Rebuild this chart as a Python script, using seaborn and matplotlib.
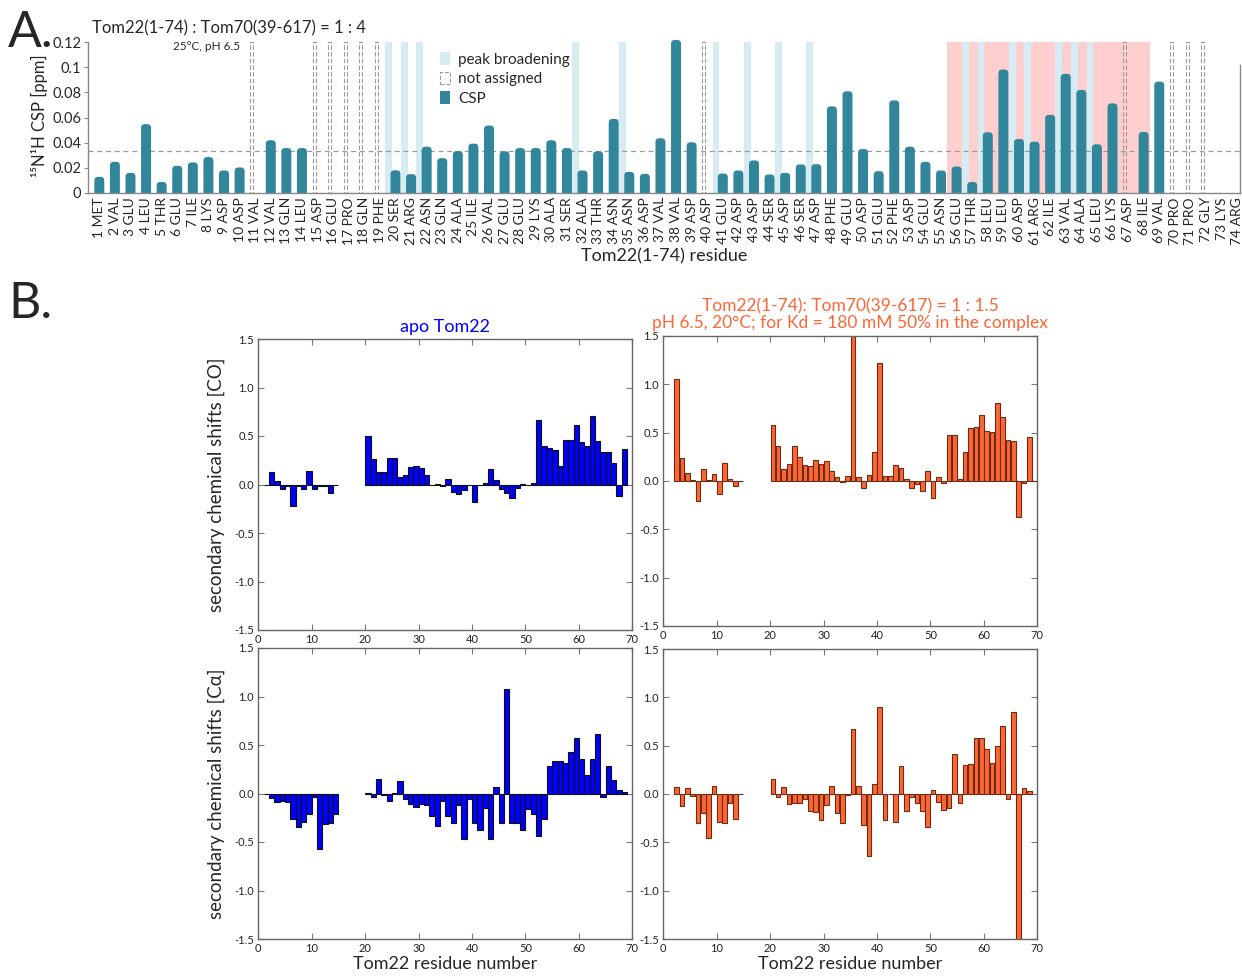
import numpy as np
import pandas as pd
import matplotlib
matplotlib.use("Agg")
import matplotlib.pyplot as plt
import seaborn as sns
from matplotlib.patches import FancyBboxPatch, Patch, Rectangle

sns.set_theme(style="white")
plt.rcParams["font.family"] = ["Lato", "DejaVu Sans"]
plt.rcParams["axes.unicode_minus"] = False

# ---------------- Panel A data ----------------
residue_numbers = list(range(1, 75))
residue_names = ["MET", "VAL", "GLU", "LEU", "THR", "GLU", "ILE", "LYS", "ASP", "ASP",
                 "VAL", "VAL", "GLN", "LEU", "ASP", "GLU", "PRO", "GLN", "PHE", "SER",
                 "ARG", "ASN", "GLN", "ALA", "ILE", "VAL", "GLU", "GLU", "LYS", "ALA",
                 "SER", "ALA", "THR", "ASN", "ASN", "ASP", "VAL", "VAL", "ASP", "ASP",
                 "GLU", "ASP", "ASP", "SER", "ASP", "SER", "ASP", "PHE", "GLU", "ASP",
                 "GLU", "PHE", "ASP", "GLU", "ASN", "GLU", "THR", "LEU", "LEU", "ASP",
                 "ARG", "ILE", "VAL", "ALA", "LEU", "LYS", "ASP", "ILE", "VAL", "PRO",
                 "PRO", "GLY", "LYS", "ARG"]
nan = np.nan
csp_values = [0.0128, 0.0248, 0.016, 0.0547, 0.0088, 0.0216, 0.0243, 0.0285, 0.0179, 0.0203,
              nan, 0.0419, 0.0357, 0.0357, nan, nan, nan, nan, nan, 0.018,
              0.015, 0.0368, 0.0277, 0.0333, 0.0392, 0.0536, 0.0331, 0.0357, 0.0357, 0.0419,
              0.0357, 0.0179, 0.0331, 0.0589, 0.0168, 0.0152, 0.0435, 0.1216, 0.0403, nan,
              0.0155, 0.0179, 0.0259, 0.0147, 0.016, 0.0227, 0.0229, 0.0688, 0.0808, 0.0349,
              0.0173, 0.0736, 0.0368, 0.0248, 0.0179, 0.0211, 0.0088, 0.0483, 0.0981, 0.0429,
              0.0408, 0.0621, 0.0947, 0.0819, 0.0387, 0.0712, nan, 0.0485, 0.0885, nan,
              nan, nan, nan, nan]
peak_broadening = [20, 21, 22, 32, 35, 41, 43, 45, 47, 57, 58, 60, 61, 63, 64, 65]
not_assigned = [11, 15, 16, 17, 18, 19, 40, 67, 70, 71, 72]
highlight_range = [56, 68]
csp_threshold = 0.0333
csp_yticks = [0, 0.02, 0.04, 0.06, 0.08, 0.1, 0.12]
csp_yticklabels = ["0", "0.02", "0.04", "0.06", "0.08", "0.1", "0.12"]

# ---------------- Panel B data ----------------
apo_co_res = list(range(1, 15)) + list(range(20, 69))
apo_co = [0, 0.13, 0.04, -0.05, -0.02, -0.22, -0.02, -0.05, 0.14, -0.05, -0.02, -0.02, -0.09, 0,
          0.50, 0.26, 0.13, 0.13, 0.27, 0.275, 0.076, 0.093, 0.18, 0.186, 0.175, 0.10, -0.01,
          0.007, -0.02, 0.06, -0.08, -0.10, -0.06, -0.005, -0.18, -0.01, 0.017, 0.155, 0.05,
          -0.045, -0.083, -0.138, -0.04, 0.01, -0.007, 0.014, 0.66, 0.40, 0.38, 0.355, 0.19,
          0.455, 0.46, 0.61, 0.44, 0.40, 0.71, 0.45, 0.33, 0.335, 0.22, -0.12, 0.37]

apo_ca_res = list(range(1, 15)) + list(range(20, 69))
apo_ca = [0, -0.045, -0.09, -0.076, -0.083, -0.26, -0.348, -0.293, -0.214, -0.041, -0.57,
          -0.314, -0.303, -0.21,
          0.01, -0.04, 0.148, -0.02, -0.076, 0.01, 0.134, -0.059, -0.107, -0.138, -0.107,
          -0.117, -0.231, -0.331, -0.076, -0.231, -0.307, -0.114, -0.47, -0.055, -0.307,
          -0.372, -0.145, -0.47, 0.072, -0.30, 1.079, -0.303, -0.30, -0.372, -0.159, -0.21,
          -0.434, -0.262, 0.286, 0.338, 0.338, 0.31, 0.424, 0.572, 0.355, 0.19, 0.355, 0.617,
          -0.038, 0.286, 0.138, 0.041, 0.02]

bound_co_res = list(range(2, 15)) + list(range(20, 70))
bound_co = [1.05, 0.24, 0.08, 0.01, -0.21, 0.12, 0.01, 0.072, -0.137, 0.185, 0.02, -0.048, 0,
            0.575, 0.36, 0.123, 0.171, 0.36, 0.253, 0.161, 0.154, 0.216, 0.171, 0.202, 0.106,
            0.038, -0.014, 0.055, 1.55, 0.038, -0.068, 0.062, 0.298, 1.22, 0.055, 0.048, 0.161,
            0.137, 0.02, -0.075, -0.034, -0.103, 0.103, -0.175, 0.038, -0.02, 0.473, 0.473,
            0.024, 0.295, 0.545, 0.555, 0.678, 0.52, 0.503, 0.808, 0.661, 0.421, 0.411, -0.373,
            -0.02, 0.452, 0]

bound_ca_res = list(range(2, 15)) + list(range(20, 69))
bound_ca = [0.072, -0.12, 0.066, -0.02, -0.30, -0.197, -0.45, 0.086, -0.293, -0.297, -0.093,
            -0.262, 0,
            0.152, -0.034, 0.072, -0.107, -0.093, -0.093, -0.052, -0.176, -0.183, -0.27, -0.114,
            0.083, -0.197, -0.297, -0.007, 0.672, 0.079, -0.317, -0.645, 0.10, 0.903, -0.27,
            -0.005, -0.29, 0.293, -0.176, -0.034, -0.097, -0.18, -0.34, 0.038, -0.079, -0.169,
            -0.148, 0.417, -0.093, 0.297, 0.307, 0.583, 0.576, 0.462, 0.321, 0.497, 0.707,
            -0.055, 0.852, -1.55, 0.059, 0.028]

ss_xticks = [0, 10, 20, 30, 40, 50, 60, 70]
ss_yticks = [-1.5, -1.0, -0.5, 0.0, 0.5, 1.0, 1.5]

# ---------------- styling ----------------
TEAL = "#31869c"
LIGHTBLUE = "#d6ebf2"
PINK = "#ffcfcf"
DASHGRAY = "#9a9a9a"
APO_BLUE = "#0000ff"
ORANGE = "#ff6633"
ORANGE_EDGE = "#6b2a12"

W, H = 1242, 976
fig = plt.figure(figsize=(W / 100, H / 100), dpi=100)


def fbox(x0, y0, x1, y1):
    return [x0 / W, 1 - y1 / H, (x1 - x0) / W, (y1 - y0) / H]


# ================= Panel A =================
A_YTOP = 0.1225
axA = fig.add_axes(fbox(88, 193 - 151 * A_YTOP / 0.12, 1240, 193))
labels = [f"{n} {nm}" for n, nm in zip(residue_numbers, residue_names)]
dfA = pd.DataFrame({"label": labels, "csp": csp_values}).dropna()
sns.barplot(data=dfA, x="label", y="csp", order=labels, color=TEAL, saturation=1,
            width=0.64, errorbar=None, ax=axA, zorder=2)
axA.set_xlim(-0.725, 73.18)
axA.set_ylim(0, A_YTOP)

# rounded-top bars
px_y = A_YTOP / (151 * A_YTOP / 0.12)
px_x = 1 / 15.588
asp = px_y / px_x
for p in list(axA.patches):
    x, w, h = p.get_x(), p.get_width(), p.get_height()
    p.remove()
    if not np.isfinite(h) or h <= 0:
        continue
    axA.add_patch(FancyBboxPatch((x, -0.012), w, h + 0.012,
                                 boxstyle="round,pad=0,rounding_size=0.24",
                                 mutation_aspect=asp, fc=TEAL, ec="none", zorder=2))

frac = 0.12 / A_YTOP
axA.axvspan(highlight_range[0] - 1 - 0.62, highlight_range[1] - 1 + 0.40, ymax=frac,
            color=PINK, lw=0, zorder=0.3)
for r in peak_broadening:
    axA.axvspan(r - 1 - 0.66, r - 1 - 0.22, ymax=frac, color=LIGHTBLUE, lw=0, zorder=0.5)
for r in not_assigned:
    axA.add_patch(Rectangle((r - 1 - 0.31, 0), 0.19, 0.12, fill=False, ls=(0, (4, 2)),
                            ec=DASHGRAY, lw=0.8, zorder=1))
axA.axhline(csp_threshold, ls=(0, (4, 3)), color=DASHGRAY, lw=0.9, zorder=1.5)

axA.spines["top"].set_visible(False)
for s in ["left", "right", "bottom"]:
    axA.spines[s].set_color("#888888")
    axA.spines[s].set_linewidth(1.0)
axA.spines["left"].set_bounds(0, 0.12)
axA.spines["right"].set_bounds(0, 0.1015)
axA.set_yticks(csp_yticks)
axA.set_yticklabels(csp_yticklabels)
axA.tick_params(axis="y", direction="out", length=3, width=0.8, color="#888888",
                labelsize=10.5, pad=2, left=True)
axA.tick_params(axis="x", length=0, labelsize=10, pad=3, rotation=90)
axA.set_xlabel("Tom22(1-74) residue", fontsize=13, labelpad=2)
axA.set_ylabel("¹⁵N¹H CSP [ppm]", fontsize=12, labelpad=3)

legend_handles = [Patch(fc=LIGHTBLUE, ec="none"),
                  Patch(fc="none", ec=DASHGRAY, ls="--", lw=0.8),
                  Patch(fc=TEAL, ec="none")]
axA.legend(legend_handles, ["peak broadening", "not assigned", "CSP"], loc="upper left",
           bbox_to_anchor=(0.3, 0.955), frameon=False, fontsize=11, handlelength=0.7,
           handleheight=0.9, handletextpad=0.5, labelspacing=0.33, borderaxespad=0)

fig.text(8 / W, 1 - 47 / H, "A.", fontsize=36, va="baseline", ha="left")
fig.text(92 / W, 1 - 33 / H, "Tom22(1-74) : Tom70(39-617) = 1 : 4", fontsize=12,
         va="baseline", ha="left")
fig.text(173 / W, 1 - 46 / H, "25°C, pH 6.5", fontsize=8.5, va="center", ha="left")

# ================= Panel B =================
fig.text(8 / W, 1 - 318 / H, "B.", fontsize=36, va="baseline", ha="left")

axTL = fig.add_axes(fbox(258.3, 339, 632.3, 630))
axTR = fig.add_axes(fbox(663.3, 336, 1037.3, 626))
axBL = fig.add_axes(fbox(258.3, 648, 632.3, 939))
axBR = fig.add_axes(fbox(663.3, 649, 1037.3, 939))


def ss_panel(ax, res, vals, face, edge, width):
    df = pd.DataFrame({"pos": np.array(res) + 0.5, "val": vals})
    sns.barplot(data=df, x="pos", y="val", native_scale=True, width=width, color=face,
                edgecolor=edge, linewidth=0.8, saturation=1, errorbar=None, ax=ax)
    ax.set_xlim(0, 70)
    ax.set_ylim(-1.5, 1.5)
    ax.set_xticks(ss_xticks)
    ax.set_xticklabels([str(t) for t in ss_xticks])
    ax.set_yticks(ss_yticks)
    ax.set_yticklabels([f"{t:.1f}" for t in ss_yticks])
    ax.tick_params(direction="in", top=True, right=True, bottom=True, left=True, length=4,
                   width=0.8, color="#777777", labelsize=8, labelcolor="#222222", pad=3)
    for s in ax.spines.values():
        s.set_color("#666666")
        s.set_linewidth(1.0)
    ax.set_xlabel("")
    ax.set_ylabel("")


ss_panel(axTL, apo_co_res, apo_co, APO_BLUE, "#111111", 1.0)
ss_panel(axBL, apo_ca_res, apo_ca, APO_BLUE, "#111111", 1.0)
ss_panel(axTR, bound_co_res, bound_co, ORANGE, ORANGE_EDGE, 0.87)
ss_panel(axBR, bound_ca_res, bound_ca, ORANGE, ORANGE_EDGE, 0.87)

axTL.set_title("apo Tom22", color=APO_BLUE, fontsize=13, pad=5)
axTR.set_title("Tom22(1-74): Tom70(39-617) = 1 : 1.5\n"
               "pH 6.5, 20°C; for Kd = 180 mM 50% in the complex",
               color=ORANGE, fontsize=12.5, pad=6, linespacing=1.0)
axTL.set_ylabel("secondary chemical shifts [CO]", fontsize=13.5, labelpad=7)
axBL.set_ylabel("secondary chemical shifts [Cα]", fontsize=13.5, labelpad=7)
axBL.set_xlabel("Tom22 residue number", fontsize=13, labelpad=1)
axBR.set_xlabel("Tom22 residue number", fontsize=13, labelpad=1)

fig.savefig("out.png", dpi=100)
